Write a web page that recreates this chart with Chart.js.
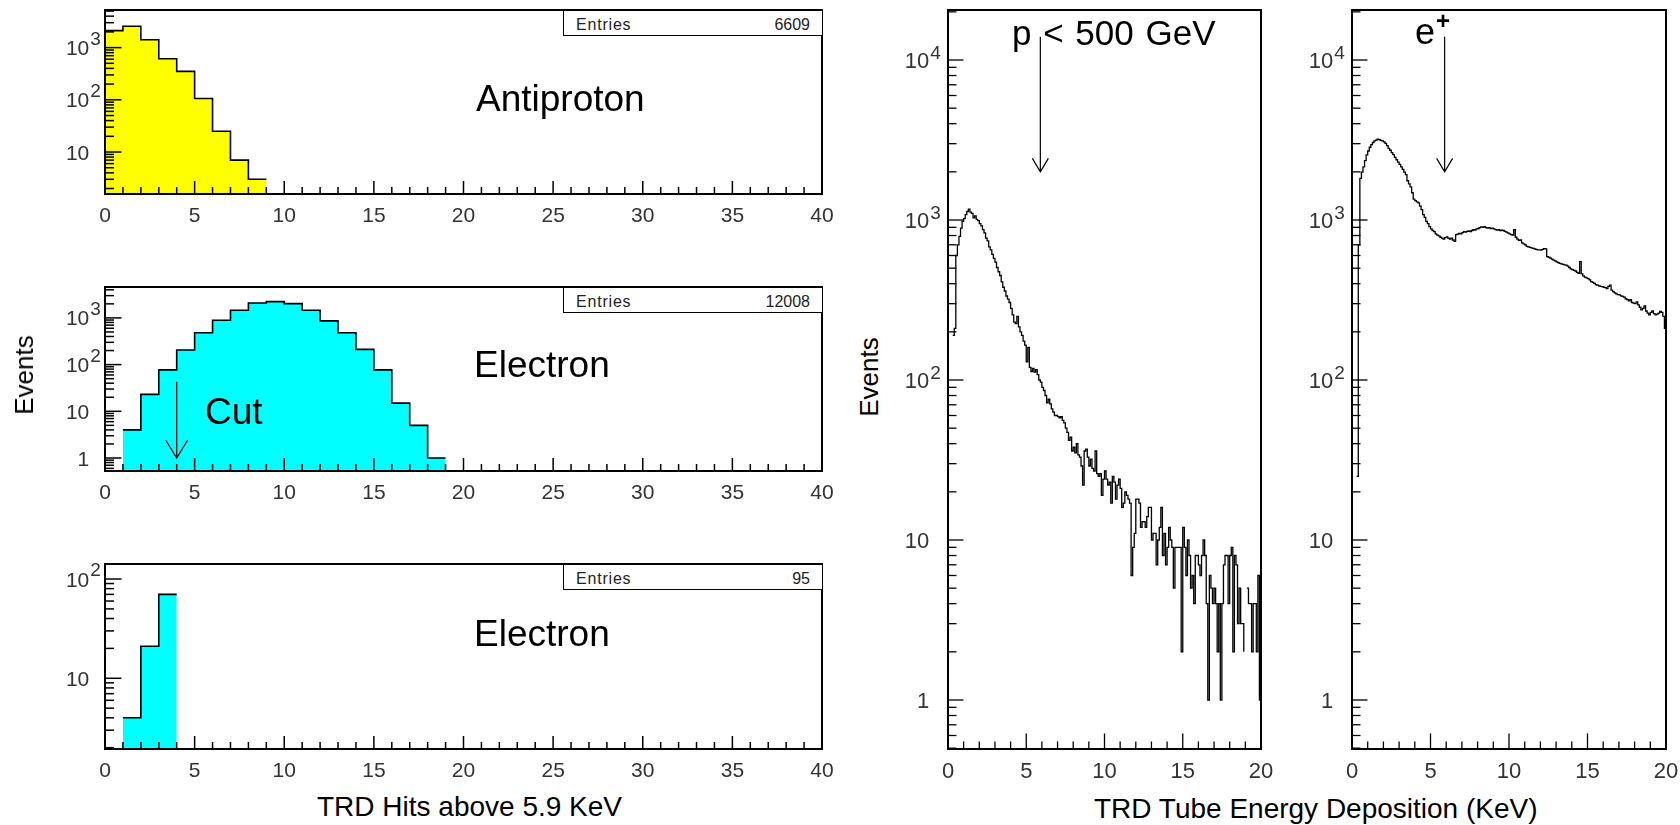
<!DOCTYPE html>
<html>
<head>
<meta charset="utf-8">
<title>TRD hits and tube energy deposition</title>
<script src="https://cdn.jsdelivr.net/npm/chart.js@4.4.1/dist/chart.umd.min.js"></script>
<style>
  html, body { margin: 0; background: #fff; }
  #page {
    position: relative; width: 1680px; height: 825px; overflow: hidden;
    font-family: "Liberation Sans", Arial, Helvetica, sans-serif; color: #000;
  }
  #page canvas { position: absolute; }
  .txt { position: absolute; white-space: nowrap; line-height: 1; }
  .stats {
    position: absolute; box-sizing: border-box; height: 26px; width: 260px;
    border: 1px solid #000; background: #fff;
  }
  .stats span { position: absolute; top: 6px; font-size: 16px; line-height: 1; color: #222; }
  .stats .k { left: 12px; letter-spacing: 0.8px; }
  .stats .v { right: 12px; font-family: "Liberation Sans Narrow", "Liberation Sans", sans-serif; }
  .ytitle {
    position: absolute; font-size: 26px; line-height: 1; white-space: nowrap;
    transform: translate(-50%, -50%) rotate(-90deg);
  }
</style>
</head>
<body>
<div id="page">
  <!-- stats boxes -->
  <div class="stats" style="left:563px; top:10px;"><span class="k">Entries</span><span class="v">6609</span></div>
  <div class="stats" style="left:563px; top:287px;"><span class="k">Entries</span><span class="v">12008</span></div>
  <div class="stats" style="left:563px; top:564px;"><span class="k">Entries</span><span class="v">95</span></div>

  <!-- panel titles -->
  <div class="txt" style="left:476px; top:80px; font-size:37px;">Antiproton</div>
  <div class="txt" style="left:474px; top:346px; font-size:37px;">Electron</div>
  <div class="txt" style="left:474px; top:615px; font-size:37px;">Electron</div>
  <div class="txt" style="left:205px; top:393px; font-size:37px;">Cut</div>
  <div class="txt" style="left:1012px; top:15px; font-size:35px; word-spacing:2px;">p &lt; 500 GeV</div>
  <div class="txt" style="left:1415px; top:14px; font-size:36px;">e</div>
  <div class="txt" style="left:1436px; top:9px; font-size:24px; font-weight:bold;">+</div>

  <!-- axis titles -->
  <div class="ytitle" style="left:24px; top:375px;">Events</div>
  <div class="ytitle" style="left:869px; top:377px;">Events</div>
  <div class="txt" style="left:317px; top:793px; font-size:28px;">TRD Hits above 5.9 KeV</div>
  <div class="txt" style="left:1094px; top:795px; font-size:28px;">TRD Tube Energy Deposition (KeV)</div>
</div>

<script>
// ---- data ----
const hitTicks = [0, 5, 10, 15, 20, 25, 30, 35, 40];
const energyTicks = [0, 5, 10, 15, 20];
const decadeTicks = [1, 10, 100, 1000, 10000];

// TRD hits, 1-hit bins starting at 0
const antiprotonHits = [2110, 2570, 1410, 611, 351, 106, 25, 7, 3];
const electronHits = [0, 4, 23, 77, 205, 480, 890, 1455, 2090, 2230, 2020, 1455, 863, 480, 212, 77, 15, 5, 1];
const electronCutHits = [0, 4, 21, 70];

// tube energy deposition, 0.1 KeV bins starting at 0
const protonDeposit = [
  0, 0, 0, 190, 210, 600, 700, 790, 890, 980,
  1020, 1080, 1130, 1170, 1120, 1100, 1030, 1060, 1010, 990,
  950, 920, 870, 830, 770, 740, 680, 650, 610, 575,
  545, 505, 475, 450, 410, 380, 360, 335, 320, 305,
  280, 255, 230, 225, 250, 215, 200, 190, 175, 165,
  130, 160, 120, 113, 118, 112, 116, 108, 100, 97,
  90, 86, 80, 72, 76, 71, 66, 63, 60, 60,
  59, 58, 59, 56, 54, 50, 47, 42, 44, 36,
  38, 35, 40, 34, 33, 29, 22, 36, 37, 33,
  29, 32, 28, 27, 36, 26, 25, 26, 19, 24,
  27, 24, 22, 23, 17, 25, 23, 18, 22, 24,
  21, 16, 17, 20, 19, 18, 17, 6, 9, 11,
  18, 18, 17, 12, 13, 13, 12, 14, 16, 16,
  10, 11, 11, 7, 10, 12, 16, 8, 11, 7,
  9, 12, 10, 9, 5, 9, 9, 9, 9, 2,
  12, 9, 6, 10, 8, 5, 6, 4, 8, 8,
  7, 6, 8, 10, 8, 4, 1, 6, 5, 4,
  5, 4, 2, 4, 1, 4, 7, 8, 8, 4,
  8, 9, 2, 8, 7, 3, 5, 3, 3, 2,
  0, 5, 4, 4, 2, 4, 4, 2, 6, 1,
];
const positronDeposit = [
  0, 0, 0, 25, 700, 1820, 1990, 2150, 2350, 2550,
  2700, 2850, 2960, 3050, 3120, 3160, 3200, 3180, 3150, 3120,
  3080, 3010, 2920, 2800, 2730, 2640, 2560, 2460, 2380, 2300,
  2230, 2150, 2070, 1990, 1920, 1760, 1680, 1610, 1480, 1350,
  1320, 1300, 1280, 1220, 1160, 1080, 1040, 980, 950, 910,
  880, 860, 845, 820, 805, 795, 780, 770, 760, 775,
  785, 770, 760, 770, 750, 735, 810, 815, 825, 820,
  835, 845, 840, 850, 855, 845, 860, 870, 865, 880,
  885, 895, 905, 900, 910, 895, 890, 895, 885, 890,
  880, 870, 865, 870, 860, 865, 860, 850, 840, 830,
  820, 810, 805, 870, 780, 760, 745, 750, 720, 710,
  700, 685, 680, 675, 670, 665, 660, 655, 650, 650,
  648, 655, 663, 660, 590, 585, 578, 570, 562, 555,
  548, 542, 535, 532, 528, 525, 522, 515, 505, 495,
  490, 485, 480, 470, 464, 550, 460, 448, 440, 435,
  430, 422, 412, 408, 402, 395, 392, 388, 385, 383,
  380, 378, 372, 385, 392, 365, 357, 350, 345, 342,
  340, 336, 333, 330, 322, 318, 312, 318, 305, 302,
  300, 308, 295, 285, 274, 280, 290, 270, 262, 255,
  265, 270, 260, 255, 258, 262, 268, 265, 250, 210,
];

// ---- ROOT-like look ----
const hitStyle = {
  font: 21, supFont: 19, supRise: 3, labelGap: 15.7, xLabelDrop: 28,
  xMajorLen: 13, xMinorLen: 7, yMajorLen: 16.5, yMinorLen: 9,
  tickWidth: 1.5, frameWidth: 2, xMinor: 1, xLabels: hitTicks,
};
const energyStyle = {
  font: 22, supFont: 19, supRise: 1, labelGap: 18.7, xLabelDrop: 28.5,
  xMajorLen: 15.5, xMinorLen: 7.5, yMajorLen: 15.5, yMinorLen: 8.5,
  tickWidth: 1.3, frameWidth: 2, xMinor: 1, xLabels: energyTicks,
};

function line(ctx, x0, y0, x1, y1) {
  ctx.beginPath();
  ctx.moveTo(x0, y0);
  ctx.lineTo(x1, y1);
  ctx.stroke();
}

// frame, inward ticks, labels and arrows, all placed through the chart scales
const rootAxes = {
  id: "rootAxes",
  afterDraw(chart, _args, o) {
    const { ctx, chartArea: a } = chart;
    const x = chart.scales.x;
    const y = chart.scales.y;
    const fontName = '"Liberation Sans", Arial, sans-serif';
    ctx.save();
    ctx.strokeStyle = "#000";
    ctx.fillStyle = "#333";
    ctx.lineWidth = o.tickWidth;

    // x ticks
    const nx = Math.round((x.max - x.min) / o.xMinor);
    for (let i = 0; i <= nx; i++) {
      const v = x.min + i * o.xMinor;
      const px = x.getPixelForValue(v);
      const len = o.xLabels.includes(v) ? o.xMajorLen : o.xMinorLen;
      line(ctx, px, a.bottom, px, a.bottom - len);
    }
    ctx.font = `${o.font}px ${fontName}`;
    ctx.textAlign = "center";
    ctx.textBaseline = "alphabetic";
    o.xLabels.forEach((v) => {
      ctx.fillText(String(v), x.getPixelForValue(v), a.bottom + o.xLabelDrop);
    });

    // log y ticks
    const d0 = Math.floor(Math.log10(y.min));
    const d1 = Math.ceil(Math.log10(y.max));
    for (let d = d0; d <= d1; d++) {
      for (let m = 1; m <= 9; m++) {
        const v = m * Math.pow(10, d);
        if (v < y.min || v > y.max) continue;
        const py = y.getPixelForValue(v);
        line(ctx, a.left, py, a.left + (m === 1 ? o.yMajorLen : o.yMinorLen), py);
      }
    }
    const lx = a.left - o.labelGap;
    decadeTicks
      .filter((v) => v >= y.min && v <= y.max)
      .forEach((v) => {
        const py = y.getPixelForValue(v);
        const e = Math.round(Math.log10(v));
        ctx.font = `${o.font}px ${fontName}`;
        ctx.textAlign = "right";
        ctx.fillText(e === 0 ? "1" : "10", lx, py + 0.358 * o.font);
        if (e >= 2) {
          ctx.font = `${o.supFont}px ${fontName}`;
          ctx.textAlign = "left";
          ctx.fillText(String(e), lx + 1, py - o.supRise);
        }
      });

    // arrow marker
    if (o.arrow) {
      const ax = x.getPixelForValue(o.arrow.x);
      const y0 = y.getPixelForValue(o.arrow.from);
      const y1 = y.getPixelForValue(o.arrow.to);
      ctx.lineWidth = 1.2;
      ctx.beginPath();
      ctx.moveTo(ax, y0);
      ctx.lineTo(ax, y1);
      ctx.moveTo(ax - o.arrow.half, y1 - o.arrow.len);
      ctx.lineTo(ax, y1);
      ctx.lineTo(ax + o.arrow.half, y1 - o.arrow.len);
      ctx.stroke();
    }

    // frame
    ctx.lineWidth = o.frameWidth;
    ctx.strokeRect(a.left, a.top, a.right - a.left, a.bottom - a.top);
    ctx.restore();
  },
};

function stepPoints(counts, width) {
  const pts = [{ x: 0, y: 0 }];
  counts.forEach((c, i) => pts.push({ x: i * width, y: c }));
  const end = counts.length * width;
  pts.push({ x: end, y: counts[counts.length - 1] }, { x: end, y: 0 });
  return pts;
}

function histChart(frame, cfg) {
  const box = {
    left: frame.left - cfg.roomLeft,
    top: Math.max(0, frame.top - 10),
    right: frame.right + 14,
    bottom: frame.bottom + 40,
  };
  const canvas = document.createElement("canvas");
  canvas.width = box.right - box.left;
  canvas.height = box.bottom - box.top;
  canvas.style.left = box.left + "px";
  canvas.style.top = box.top + "px";
  document.getElementById("page").prepend(canvas);

  return new Chart(canvas, {
    type: "line",
    data: {
      datasets: [
        {
          data: stepPoints(cfg.counts, cfg.binWidth),
          stepped: true,
          borderColor: "#000",
          borderWidth: cfg.lineWidth,
          backgroundColor: cfg.fillColor || "transparent",
          fill: cfg.fillColor ? "start" : false,
          pointRadius: 0,
        },
      ],
    },
    options: {
      responsive: false,
      animation: false,
      devicePixelRatio: 1,
      events: [],
      layout: {
        padding: {
          left: frame.left - box.left,
          top: frame.top - box.top,
          right: box.right - frame.right,
          bottom: box.bottom - frame.bottom,
        },
      },
      plugins: {
        legend: { display: false },
        tooltip: { enabled: false },
        rootAxes: { ...cfg.style, arrow: cfg.arrow },
      },
      scales: {
        x: { type: "linear", min: cfg.xMin, max: cfg.xMax, display: false, bounds: "data" },
        y: { type: "logarithmic", min: cfg.yMin, max: cfg.yMax, display: false, bounds: "data" },
      },
    },
    plugins: [rootAxes],
  });
}

histChart({ left: 105, top: 10, right: 822, bottom: 194 }, {
  counts: antiprotonHits, binWidth: 1, fillColor: "#ffff00", lineWidth: 1.6,
  xMin: 0, xMax: 40, yMin: 1.57, yMax: 5250, style: hitStyle, roomLeft: 100,
});

histChart({ left: 105, top: 287, right: 822, bottom: 471 }, {
  counts: electronHits, binWidth: 1, fillColor: "#00ffff", lineWidth: 1.6,
  xMin: 0, xMax: 40, yMin: 0.527, yMax: 4590, style: hitStyle, roomLeft: 100,
  arrow: { x: 4, from: 43, to: 1, half: 11, len: 18 },
});

histChart({ left: 105, top: 564, right: 822, bottom: 749 }, {
  counts: electronCutHits, binWidth: 1, fillColor: "#00ffff", lineWidth: 1.6,
  xMin: 0, xMax: 40, yMin: 1.94, yMax: 141.6, style: hitStyle, roomLeft: 100,
});

histChart({ left: 948, top: 10, right: 1261, bottom: 749 }, {
  counts: protonDeposit, binWidth: 0.1, lineWidth: 1.3,
  xMin: 0, xMax: 20, yMin: 0.494, yMax: 20540, style: energyStyle, roomLeft: 60,
  arrow: { x: 5.9, from: 14000, to: 2000, half: 8, len: 13.5 },
});

histChart({ left: 1352, top: 10, right: 1666, bottom: 749 }, {
  counts: positronDeposit, binWidth: 0.1, lineWidth: 1.3,
  xMin: 0, xMax: 20, yMin: 0.494, yMax: 20540, style: energyStyle, roomLeft: 60,
  arrow: { x: 5.9, from: 14000, to: 2000, half: 8, len: 13.5 },
});
</script>
</body>
</html>
